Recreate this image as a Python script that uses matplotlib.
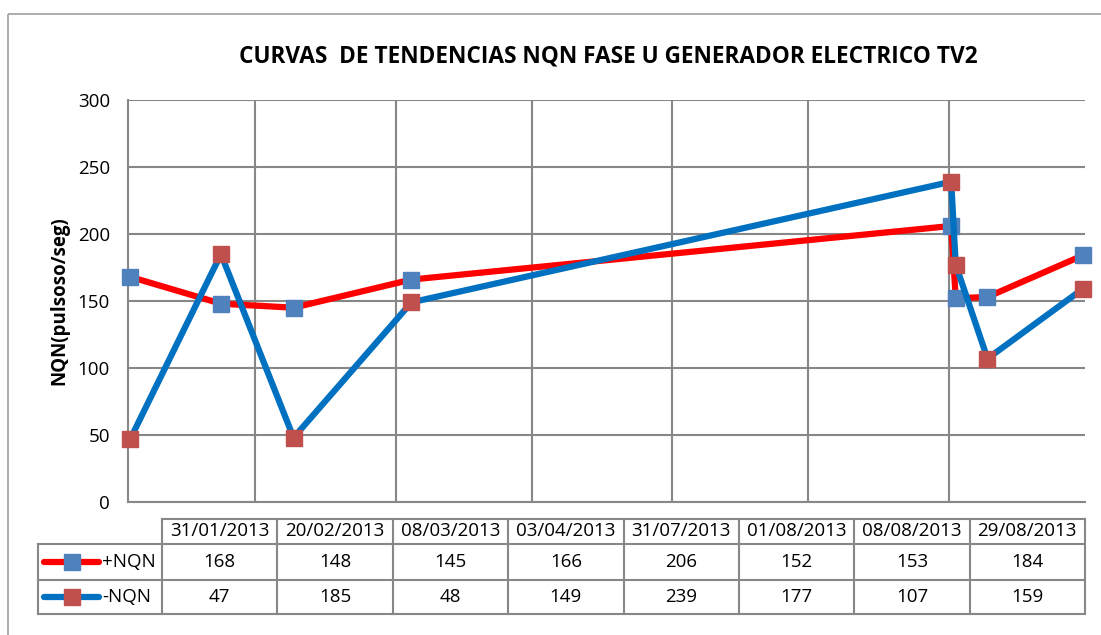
import numpy as np
import pandas as pd
import matplotlib
matplotlib.use('Agg')
import matplotlib.pyplot as plt
from matplotlib.lines import Line2D
from matplotlib.patches import Rectangle

plt.rcParams['font.family'] = ['Open Sans', 'DejaVu Sans']

dates = ['31/01/2013', '20/02/2013', '08/03/2013', '03/04/2013',
         '31/07/2013', '01/08/2013', '08/08/2013', '29/08/2013']
plus_nqn = [168, 148, 145, 166, 206, 152, 153, 184]
minus_nqn = [47, 185, 48, 149, 239, 177, 107, 159]
series_names = ['+NQN', '-NQN']
title = 'CURVAS  DE TENDENCIAS NQN FASE U GENERADOR ELECTRICO TV2'
ylabel = 'NQN(pulsoso/seg)'

W, H = 1101, 635
fig = plt.figure(figsize=(W / 100, H / 100), dpi=100)


def box(l, t, r, b):
    return [l / W, 1 - b / H, (r - l) / W, (b - t) / H]


# date axis: days counted from the first sample, points sit in the middle of a day
d = pd.to_datetime(dates, dayfirst=True)
x = np.array((d - d[0]).days, dtype=float)
month_ends = pd.date_range(d[0], d[-1] + pd.Timedelta(days=3), freq='ME')
grid_x = np.array((month_ends - d[0]).days, dtype=float) - 0.5

GRID = '#878787'
RED, BLUE = '#FF0000', '#0070C0'
MBLUE, MRED = '#4F81BD', '#C0504D'
FS = 13.5

ax = fig.add_axes(box(128, 100, 1085, 502))
ax.set_xlim(-0.5, x[-1] + 0.5)
ax.set_ylim(0, 300)
ax.set_yticks(np.arange(0, 301, 50))
ax.set_xticks([])
for gx in grid_x:
    if -0.5 < gx < x[-1] + 0.5:
        ax.axvline(gx, color=GRID, lw=1.5, zorder=0)
ax.yaxis.grid(True, color=GRID, lw=1.5, zorder=0)
ax.tick_params(axis='y', length=0, pad=13, labelsize=FS)
for s in ['top', 'right']:
    ax.spines[s].set_visible(False)
for s in ['left', 'bottom']:
    ax.spines[s].set_color(GRID)
    ax.spines[s].set_linewidth(1.5)
ax.set_ylabel(ylabel, fontsize=13.5, fontweight='bold', labelpad=6)

ax.plot(x, plus_nqn, color=RED, lw=4.5, marker='s', ms=12,
        mfc=MBLUE, mec=MBLUE, zorder=3, clip_on=False)
ax.plot(x, minus_nqn, color=BLUE, lw=4.5, marker='s', ms=12,
        mfc=MRED, mec=MRED, zorder=4, clip_on=False)

fig.text(608 / W, 1 - 56 / H, title, ha='center', va='center',
         fontsize=16.3, fontweight='bold')

# data table under the plot
tab = fig.add_axes([0, 0, 1, 1])
tab.set_xlim(0, W)
tab.set_ylim(H, 0)
tab.axis('off')
col_l, col0, col_w = 38, 162, (1085 - 162) / len(dates)
rows = [519, 544, 580, 614]
lk = dict(color=GRID, lw=1.5)
tab.plot([col0, col0 + col_w * len(dates)], [rows[0]] * 2, **lk)
for r in rows[1:]:
    tab.plot([col_l, col0 + col_w * len(dates)], [r] * 2, **lk)
tab.plot([col_l, col_l], [rows[1], rows[3]], **lk)
for i in range(len(dates) + 1):
    tab.plot([col0 + i * col_w] * 2, [rows[0], rows[3]], **lk)
for i, lab in enumerate(dates):
    cx = col0 + (i + 0.5) * col_w
    tab.text(cx, (rows[0] + rows[1]) / 2, lab, ha='center', va='center', fontsize=FS)
    tab.text(cx, (rows[1] + rows[2]) / 2, str(plus_nqn[i]), ha='center', va='center', fontsize=FS)
    tab.text(cx, (rows[2] + rows[3]) / 2, str(minus_nqn[i]), ha='center', va='center', fontsize=FS)
for j, (name, lc, mc) in enumerate([(series_names[0], RED, MBLUE), (series_names[1], BLUE, MRED)]):
    cy = (rows[1 + j] + rows[2 + j]) / 2
    tab.add_line(Line2D([44, 99], [cy, cy], color=lc, lw=4.5, solid_capstyle='round'))
    tab.add_line(Line2D([72], [cy], marker='s', ms=12, mfc=mc, mec=mc))
    tab.text(102, cy, name, ha='left', va='center', fontsize=FS)

# chart border
tab.add_patch(Rectangle((8, 14), 1110, 640, fill=False, ec='#A0A0A0', lw=1.2, clip_on=False))

fig.savefig('out.png', dpi=100)
